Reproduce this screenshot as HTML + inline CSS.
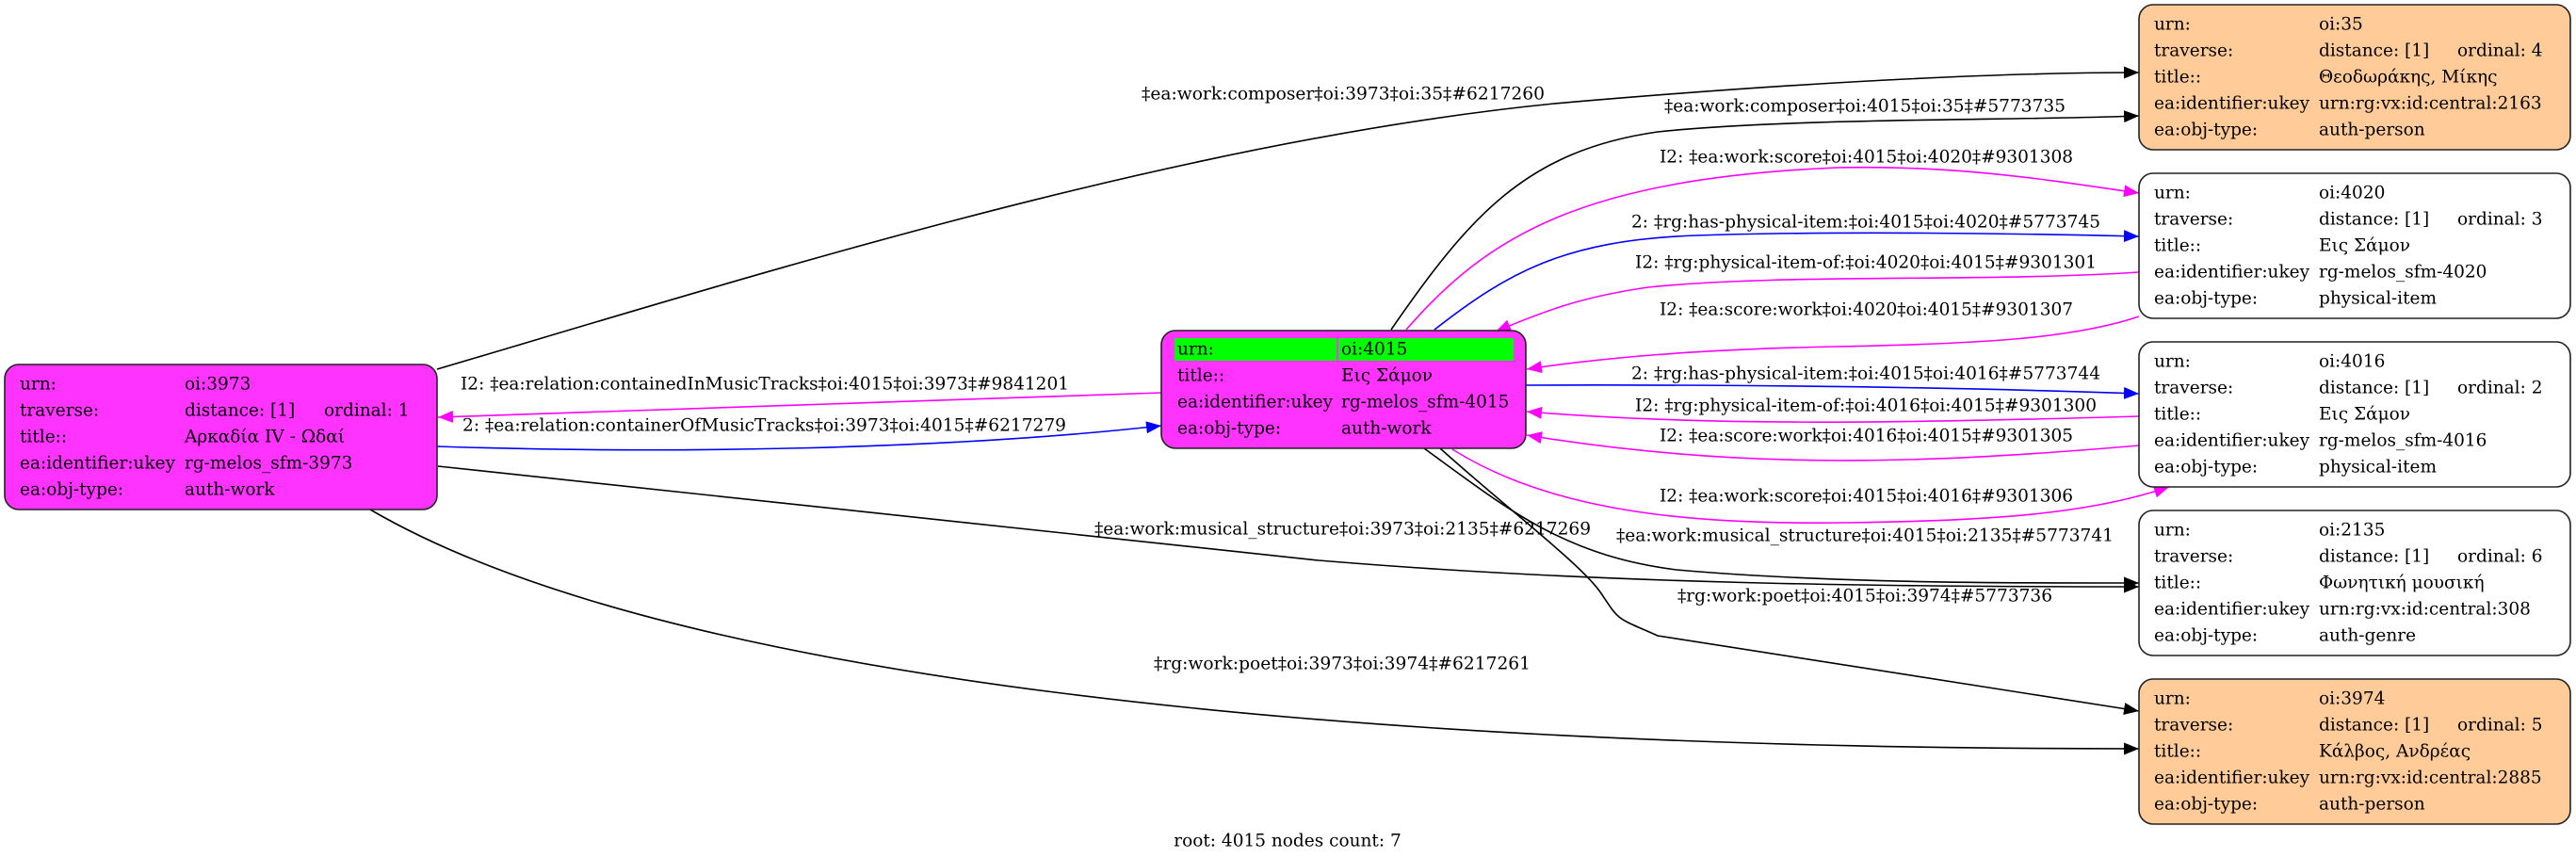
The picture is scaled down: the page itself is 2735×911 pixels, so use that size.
<!DOCTYPE html>
<html><head><meta charset="utf-8"><style>
html,body{margin:0;padding:0;background:#fff;}
svg{display:block;}
text{font-family:"DejaVu Serif","Liberation Serif",serif;font-size:18.5px;fill:#000;}
.e{fill:none;stroke-width:1.6;}
</style></head><body>
<svg width="2735" height="911" viewBox="0 0 2735 911" xmlns="http://www.w3.org/2000/svg">
<defs>
<marker id="ak" markerUnits="userSpaceOnUse" markerWidth="18" markerHeight="14" refX="16" refY="6.5" orient="auto"><path d="M0,0 L16,6.5 L0,13 Z" fill="#000"/></marker>
<marker id="am" markerUnits="userSpaceOnUse" markerWidth="18" markerHeight="14" refX="16" refY="6.5" orient="auto"><path d="M0,0 L16,6.5 L0,13 Z" fill="#ff00ff"/></marker>
<marker id="ab" markerUnits="userSpaceOnUse" markerWidth="18" markerHeight="14" refX="16" refY="6.5" orient="auto"><path d="M0,0 L16,6.5 L0,13 Z" fill="#0000ff"/></marker>
</defs>

<!-- edges -->
<path class="e" stroke="#000" marker-end="url(#ak)" d="M464,392 C800,293 1250,150 1650,110 C1950,84 2150,77 2271,77"/>
<path class="e" stroke="#000" marker-end="url(#ak)" d="M1477,350 C1560,230 1620,160 1760,140 C1900,125 2150,128 2271,123"/>
<path class="e" stroke="#ff00ff" marker-end="url(#am)" d="M1493,350 C1580,250 1680,190 1950,178 C2080,175 2180,192 2271,205"/>
<path class="e" stroke="#0000ff" marker-end="url(#ab)" d="M1523,350 C1600,290 1660,255 1800,250 C1950,245 2150,248 2271,251"/>
<path class="e" stroke="#ff00ff" marker-end="url(#am)" d="M2271,289 C2100,300 1900,290 1750,305 C1680,315 1640,330 1588,352"/>
<path class="e" stroke="#ff00ff" marker-end="url(#am)" d="M2271,336 C2200,360 2100,365 1950,368 C1800,371 1700,380 1621,392"/>
<path class="e" stroke="#ff00ff" marker-end="url(#am)" d="M1233,417 C1000,425 700,435 465,443"/>
<path class="e" stroke="#0000ff" marker-end="url(#ab)" d="M464,474 C700,482 1000,478 1233,452"/>
<path class="e" stroke="#0000ff" marker-end="url(#ab)" d="M1620,409 C1900,408 2100,412 2271,418"/>
<path class="e" stroke="#ff00ff" marker-end="url(#am)" d="M2271,442 C2000,450 1800,452 1621,437"/>
<path class="e" stroke="#ff00ff" marker-end="url(#am)" d="M2271,473 C2050,492 1850,500 1621,462"/>
<path class="e" stroke="#ff00ff" marker-end="url(#am)" d="M1542,477 C1650,545 1800,557 1960,555 C2120,553 2220,545 2303,517"/>
<path class="e" stroke="#000" marker-end="url(#ak)" d="M465,495 C800,530 1100,565 1400,595 C1700,620 2000,623 2271,623"/>
<path class="e" stroke="#000" marker-end="url(#ak)" d="M1512,476 C1600,540 1660,590 1780,605 C1950,620 2150,619 2271,619"/>
<path class="e" stroke="#000" marker-end="url(#ak)" d="M1529,476 C1600,540 1680,600 1700,630 C1720,660 1715,655 1760,675 L2271,755"/>
<path class="e" stroke="#000" marker-end="url(#ak)" d="M393,541 C700,720 1400,795 2271,795"/>

<!-- edge labels -->
<g text-anchor="start" dominant-baseline="central">
<text x="1212" y="100" textLength="428" lengthAdjust="spacingAndGlyphs">‡ea:work:composer‡oi:3973‡oi:35‡#6217260</text>
<text x="1767" y="113" textLength="426" lengthAdjust="spacingAndGlyphs">‡ea:work:composer‡oi:4015‡oi:35‡#5773735</text>
<text x="1762" y="167" textLength="439" lengthAdjust="spacingAndGlyphs">I2: ‡ea:work:score‡oi:4015‡oi:4020‡#9301308</text>
<text x="1732" y="236" textLength="498" lengthAdjust="spacingAndGlyphs">2: ‡rg:has-physical-item:‡oi:4015‡oi:4020‡#5773745</text>
<text x="1736" y="279" textLength="490" lengthAdjust="spacingAndGlyphs">I2: ‡rg:physical-item-of:‡oi:4020‡oi:4015‡#9301301</text>
<text x="1762" y="329" textLength="439" lengthAdjust="spacingAndGlyphs">I2: ‡ea:score:work‡oi:4020‡oi:4015‡#9301307</text>
<text x="489" y="408" textLength="646" lengthAdjust="spacingAndGlyphs">I2: ‡ea:relation:containedInMusicTracks‡oi:4015‡oi:3973‡#9841201</text>
<text x="491" y="452" textLength="641" lengthAdjust="spacingAndGlyphs">2: ‡ea:relation:containerOfMusicTracks‡oi:3973‡oi:4015‡#6217279</text>
<text x="1732" y="397" textLength="498" lengthAdjust="spacingAndGlyphs">2: ‡rg:has-physical-item:‡oi:4015‡oi:4016‡#5773744</text>
<text x="1736" y="431" textLength="490" lengthAdjust="spacingAndGlyphs">I2: ‡rg:physical-item-of:‡oi:4016‡oi:4015‡#9301300</text>
<text x="1762" y="463" textLength="439" lengthAdjust="spacingAndGlyphs">I2: ‡ea:score:work‡oi:4016‡oi:4015‡#9301305</text>
<text x="1762" y="527" textLength="439" lengthAdjust="spacingAndGlyphs">I2: ‡ea:work:score‡oi:4015‡oi:4016‡#9301306</text>
<text x="1162" y="562" textLength="527" lengthAdjust="spacingAndGlyphs">‡ea:work:musical_structure‡oi:3973‡oi:2135‡#6217269</text>
<text x="1716" y="569" textLength="528" lengthAdjust="spacingAndGlyphs">‡ea:work:musical_structure‡oi:4015‡oi:2135‡#5773741</text>
<text x="1781" y="633" textLength="398" lengthAdjust="spacingAndGlyphs">‡rg:work:poet‡oi:4015‡oi:3974‡#5773736</text>
<text x="1225" y="705" textLength="400" lengthAdjust="spacingAndGlyphs">‡rg:work:poet‡oi:3973‡oi:3974‡#6217261</text>
</g>

<!-- node 3973 -->
<rect x="5" y="387" width="459" height="154" rx="15" fill="#ff33ff" stroke="#222" stroke-width="1.6"/>
<g dominant-baseline="central">
<text x="21" y="408">urn:</text><text x="196" y="408">oi:3973</text>
<text x="21" y="436">traverse:</text><text x="196" y="436">distance: [1]</text><text x="344" y="436">ordinal: 1</text>
<text x="21" y="464">title::</text><text x="196" y="464">Αρκαδία IV - Ωδαί</text>
<text x="21" y="492">ea:identifier:ukey</text><text x="196" y="492">rg-melos_sfm-3973</text>
<text x="21" y="520">ea:obj-type:</text><text x="196" y="520">auth-work</text>
</g>

<!-- node 4015 -->
<rect x="1233" y="351" width="387" height="125" rx="15" fill="#ff33ff" stroke="#222" stroke-width="1.6"/>
<rect x="1247" y="359" width="172" height="24" fill="#00ff00"/>
<rect x="1421" y="359" width="186" height="24" fill="#00ff00"/>
<g dominant-baseline="central">
<text x="1250" y="371">urn:</text><text x="1424" y="371">oi:4015</text>
<text x="1250" y="399">title::</text><text x="1424" y="399">Εις Σάμον</text>
<text x="1250" y="427">ea:identifier:ukey</text><text x="1424" y="427">rg-melos_sfm-4015</text>
<text x="1250" y="455">ea:obj-type:</text><text x="1424" y="455">auth-work</text>
</g>

<!-- right nodes -->
<rect x="2271" y="5" width="458" height="154" rx="15" fill="#ffcc99" stroke="#222" stroke-width="1.6"/>
<rect x="2271" y="184" width="458" height="154" rx="15" fill="#fff" stroke="#222" stroke-width="1.6"/>
<rect x="2271" y="363" width="458" height="154" rx="15" fill="#fff" stroke="#222" stroke-width="1.6"/>
<rect x="2271" y="542" width="458" height="154" rx="15" fill="#fff" stroke="#222" stroke-width="1.6"/>
<rect x="2271" y="721" width="458" height="154" rx="15" fill="#ffcc99" stroke="#222" stroke-width="1.6"/>
<g dominant-baseline="central">
<text x="2287" y="26">urn:</text><text x="2462" y="26">oi:35</text>
<text x="2287" y="54">traverse:</text><text x="2462" y="54">distance: [1]</text><text x="2609" y="54">ordinal: 4</text>
<text x="2287" y="82">title::</text><text x="2462" y="82">Θεοδωράκης, Μίκης</text>
<text x="2287" y="110">ea:identifier:ukey</text><text x="2462" y="110">urn:rg:vx:id:central:2163</text>
<text x="2287" y="138">ea:obj-type:</text><text x="2462" y="138">auth-person</text>

<text x="2287" y="205">urn:</text><text x="2462" y="205">oi:4020</text>
<text x="2287" y="233">traverse:</text><text x="2462" y="233">distance: [1]</text><text x="2609" y="233">ordinal: 3</text>
<text x="2287" y="261">title::</text><text x="2462" y="261">Εις Σάμον</text>
<text x="2287" y="289">ea:identifier:ukey</text><text x="2462" y="289">rg-melos_sfm-4020</text>
<text x="2287" y="317">ea:obj-type:</text><text x="2462" y="317">physical-item</text>

<text x="2287" y="384">urn:</text><text x="2462" y="384">oi:4016</text>
<text x="2287" y="412">traverse:</text><text x="2462" y="412">distance: [1]</text><text x="2609" y="412">ordinal: 2</text>
<text x="2287" y="440">title::</text><text x="2462" y="440">Εις Σάμον</text>
<text x="2287" y="468">ea:identifier:ukey</text><text x="2462" y="468">rg-melos_sfm-4016</text>
<text x="2287" y="496">ea:obj-type:</text><text x="2462" y="496">physical-item</text>

<text x="2287" y="563">urn:</text><text x="2462" y="563">oi:2135</text>
<text x="2287" y="591">traverse:</text><text x="2462" y="591">distance: [1]</text><text x="2609" y="591">ordinal: 6</text>
<text x="2287" y="619">title::</text><text x="2462" y="619">Φωνητική μουσική</text>
<text x="2287" y="647">ea:identifier:ukey</text><text x="2462" y="647">urn:rg:vx:id:central:308</text>
<text x="2287" y="675">ea:obj-type:</text><text x="2462" y="675">auth-genre</text>

<text x="2287" y="742">urn:</text><text x="2462" y="742">oi:3974</text>
<text x="2287" y="770">traverse:</text><text x="2462" y="770">distance: [1]</text><text x="2609" y="770">ordinal: 5</text>
<text x="2287" y="798">title::</text><text x="2462" y="798">Κάλβος, Ανδρέας</text>
<text x="2287" y="826">ea:identifier:ukey</text><text x="2462" y="826">urn:rg:vx:id:central:2885</text>
<text x="2287" y="854">ea:obj-type:</text><text x="2462" y="854">auth-person</text>
</g>

<text x="1367" y="893" text-anchor="middle" dominant-baseline="central">root: 4015 nodes count: 7</text>
</svg>
</body></html>
